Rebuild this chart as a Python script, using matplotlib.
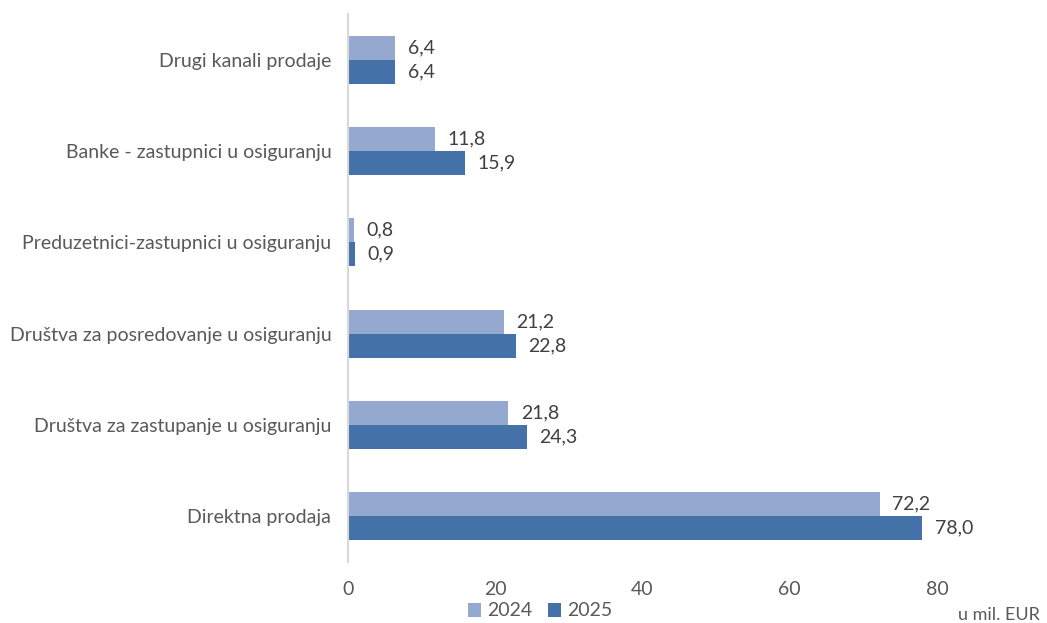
import matplotlib
matplotlib.use("Agg")
import matplotlib.pyplot as plt
import numpy as np

categories = ["Drugi kanali prodaje", "Banke - zastupnici u osiguranju",
              "Preduzetnici-zastupnici u osiguranju", "Društva za posredovanje u osiguranju",
              "Društva za zastupanje u osiguranju", "Direktna prodaja"]
values_2024 = [6.4, 11.8, 0.8, 21.2, 21.8, 72.2]
values_2025 = [6.4, 15.9, 0.9, 22.8, 24.3, 78.0]
series_names = ["2024", "2025"]
x_ticks = [0, 20, 40, 60, 80]

plt.rcParams['font.family'] = ['Lato', 'DejaVu Sans']
c24 = "#95A9D0"
c25 = "#4472A8"
txt = "#404040"
fs = 14

fig = plt.figure(figsize=(10.47, 6.23), dpi=100)
ax = fig.add_axes([348/1047, 1-562/623, (1010.6-348)/1047, (562-14)/623])

y = np.arange(len(categories))
h = 0.263
b1 = ax.barh(y - h/2, values_2024, height=h, color=c24, label=series_names[0])
b2 = ax.barh(y + h/2, values_2025, height=h, color=c25, label=series_names[1])

for bars, vals in ((b1, values_2024), (b2, values_2025)):
    for r, v in zip(bars, vals):
        ax.annotate(f"{v:.1f}".replace(".", ","), (r.get_width(), r.get_y() + r.get_height()/2),
                    xytext=(9, 0), textcoords="offset points", va="center", ha="left",
                    fontsize=fs, color=txt)

ax.set_ylim(len(categories) - 0.5, -0.5)
ax.set_xlim(0, 90)
ax.set_xticks(x_ticks)
ax.set_yticks(y)
ax.set_yticklabels(categories)
ax.tick_params(axis='both', length=0, labelsize=fs, labelcolor="#595959")
ax.tick_params(axis='x', pad=14)
ax.tick_params(axis='y', pad=12)
for s in ("top", "right", "bottom"):
    ax.spines[s].set_visible(False)
ax.spines["left"].set_color("#D9D9D9")
ax.spines["left"].set_linewidth(1.5)

fig.legend(handles=[b1, b2], labels=series_names, loc="center", bbox_to_anchor=(540/1047, 1-611/623),
           ncol=2, frameon=False, fontsize=fs, labelcolor="#595959",
           handlelength=0.7, handleheight=0.7, handletextpad=0.3, columnspacing=0.8,
           borderpad=0, borderaxespad=0)
fig.text(999/1047, 1-615/623, "u mil. EUR", ha="center", va="center", fontsize=13, color="#595959")

fig.savefig("out.png", dpi=100)
